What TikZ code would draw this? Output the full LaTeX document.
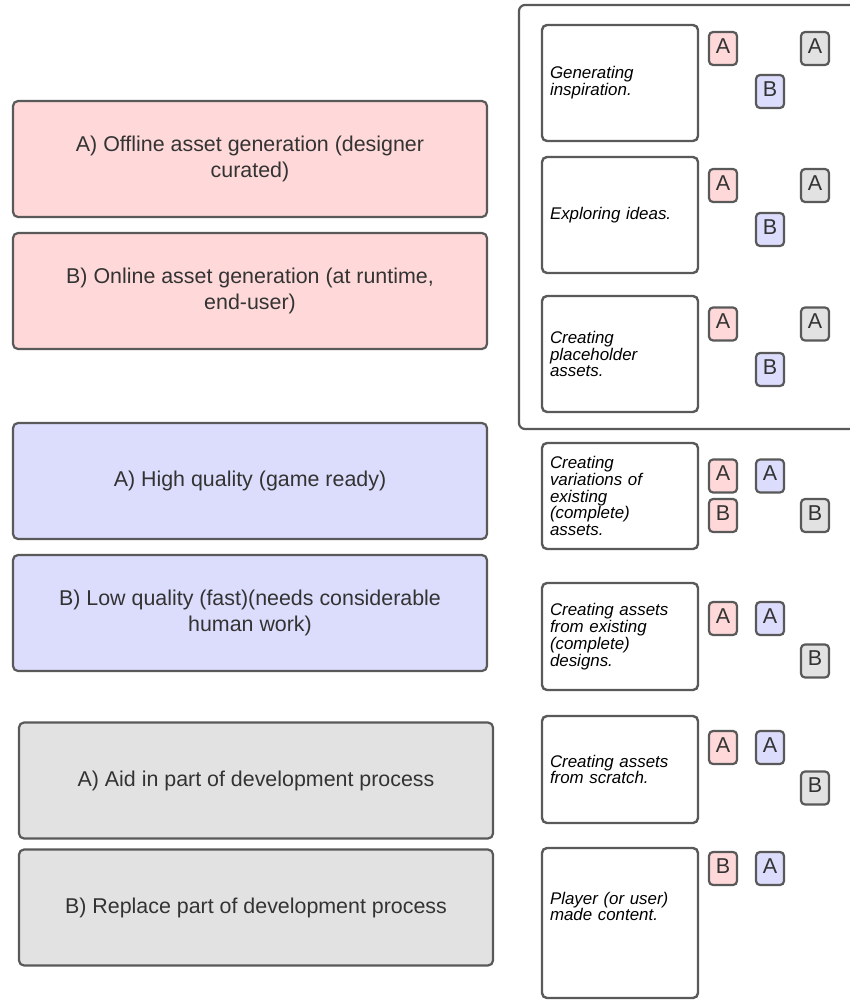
\documentclass[tikz,border=0pt]{standalone}
\usepackage{fontspec}
\setmainfont{Liberation Sans}

\definecolor{edge}{HTML}{595959}
\definecolor{ink}{HTML}{333333}
\definecolor{pinkfill}{HTML}{FFD9D9}
\definecolor{bluefill}{HTML}{DCDCFC}
\definecolor{grayfill}{HTML}{E2E2E2}

\begin{document}
\begin{tikzpicture}[x=1pt,y=-1pt,
    choice/.style={draw=edge, line width=2.2pt, rounded corners=5pt, minimum width=474pt, minimum height=116pt, align=center, text=ink, font=\fontsize{21.4}{26}\selectfont},
    usecase/.style={draw=edge, line width=2.4pt, rounded corners=5pt, fill=white, text width=140pt, inner xsep=8pt, align=left, font=\fontsize{16.9}{16.8}\selectfont\itshape},
    badge/.style={draw=edge, line width=2.2pt, rounded corners=4pt, minimum width=28pt, minimum height=33pt, inner sep=0pt, text depth=5pt, text=ink, font=\fontsize{21.5}{21.5}\selectfont}]
        \useasboundingbox (0,0) rectangle (850,1001);

        % left: the three A/B choices
        \node[choice, fill=pinkfill] (offline) at (250,159) {A) Offline asset generation (designer\\curated)};
        \node[choice, fill=pinkfill] (online) at (250,291) {B) Online asset generation (at runtime,\\end-user)};
        \node[choice, fill=bluefill] (highq) at (250,481) {A) High quality (game ready)};
        \node[choice, fill=bluefill] (lowq) at (250,613) {B) Low quality (fast)(needs considerable\\human work)};
        \node[choice, fill=grayfill] (aid) at (256,780.5) {A) Aid in part of development process};
        \node[choice, fill=grayfill] (replace) at (256,907.5) {B) Replace part of development process};

        % frame round the first three use cases
        \draw[draw=edge, line width=2.2pt, rounded corners=6pt] (853,5) -- (519,5) -- (519,429) -- (853,429);

        % right: use cases
        \node[usecase, minimum height=116pt] (inspire) at (620,83) {Generating\\inspiration.};
        \node[usecase, minimum height=116pt] (explore) at (620,215) {Exploring ideas.};
        \node[usecase, minimum height=116pt] (placeholder) at (620,354) {Creating\\placeholder\\assets.};
        \node[usecase, minimum height=106pt] (variations) at (620,496) {Creating\\variations of\\existing\\(complete)\\assets.};
        \node[usecase, minimum height=107pt] (fromdesign) at (620,636.5) {Creating assets\\from existing\\(complete)\\designs.};
        \node[usecase, minimum height=107pt] (scratch) at (620,769.5) {Creating assets\\from scratch.};
        \node[usecase, minimum height=150pt, text depth=50pt] (player) at (620,923) {Player (or user)\\made content.};

        % badges
        \node[badge, fill=pinkfill] (inspireA) at (723,48.5) {A};
        \node[badge, fill=grayfill] (inspireC) at (815,48.5) {A};
        \node[badge, fill=bluefill] (inspireB) at (770,91.5) {B};

        \node[badge, fill=pinkfill] (exploreA) at (723,185.5) {A};
        \node[badge, fill=grayfill] (exploreC) at (815,185.5) {A};
        \node[badge, fill=bluefill] (exploreB) at (770,229.5) {B};

        \node[badge, fill=pinkfill] (placeA) at (723,324) {A};
        \node[badge, fill=grayfill] (placeC) at (815,324) {A};
        \node[badge, fill=bluefill] (placeB) at (770,369.5) {B};

        \node[badge, fill=pinkfill] (varA) at (723,476) {A};
        \node[badge, fill=bluefill] (varQ) at (770,476) {A};
        \node[badge, fill=pinkfill] (varB) at (723,515.5) {B};
        \node[badge, fill=grayfill] (varC) at (815,515.5) {B};

        \node[badge, fill=pinkfill] (designA) at (723,618.5) {A};
        \node[badge, fill=bluefill] (designQ) at (770,618.5) {A};
        \node[badge, fill=grayfill] (designC) at (815,661) {B};

        \node[badge, fill=pinkfill] (scratchA) at (723,747.5) {A};
        \node[badge, fill=bluefill] (scratchQ) at (770,747.5) {A};
        \node[badge, fill=grayfill] (scratchC) at (815,788) {B};

        \node[badge, fill=pinkfill] (playerB) at (723,868.5) {B};
        \node[badge, fill=bluefill] (playerQ) at (770,868.5) {A};
    \end{tikzpicture}
\end{document}
